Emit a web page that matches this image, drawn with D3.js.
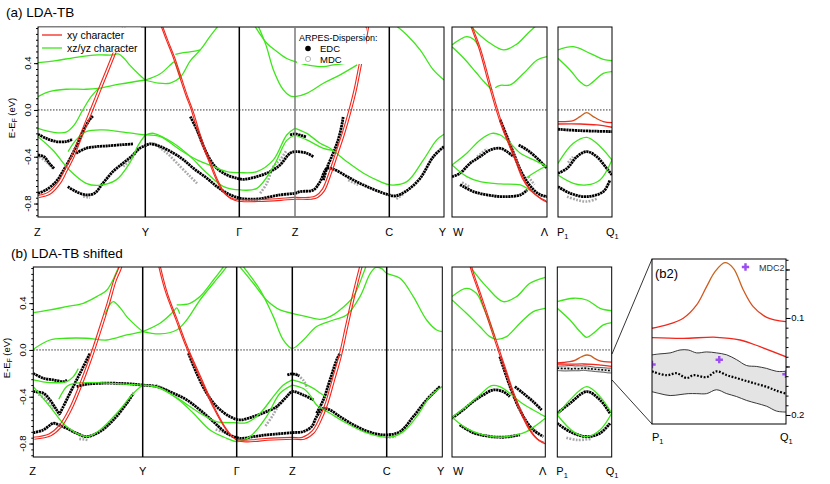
<!DOCTYPE html>
<html>
<head>
<meta charset="utf-8">
<script src="https://cdn.jsdelivr.net/npm/d3@7"></script>
<style>
  body { margin: 0; background: #fff; }
  text { font-family: "Liberation Sans", Arial, sans-serif; }
</style>
</head>
<body>
<svg id="chart" width="830" height="484"></svg>
<script>
// k-path (arbitrary path length units) and labels
var mainNodes = [0, 1.07, 2.01, 2.57, 3.51, 4.06];
var mainNames = ['Z', 'Y', 'Γ', 'Z', 'C', 'Y'];
var wNodes = [0, 0.945];
var pNodes = [0, 0.54];
var eTicks = [-0.8, -0.4, 0.0, 0.4];
var eDomain = [-0.915, 0.709];

// ---- (a) LDA-TB : bands as [k, E] ----
var topMainGreen = [
  [[0,0.405],[0.18,0.422],[0.38,0.45],[0.6,0.47],[0.74,0.47],[0.8,0.479],[0.86,0.44],[0.913,0.385],[1.013,0.299],[1.07,0.256]],
  [[0,0.114],[0.113,0.157],[0.28,0.177],[0.48,0.177],[0.6,0.185],[0.81,0.22],[1.07,0.256]],
  [[0,-0.157],[0.147,-0.19],[0.28,-0.19],[0.36,-0.13],[0.447,0],[0.53,0.114],[0.6,0.18]],
  [[0,-0.228],[0.147,-0.342],[0.313,-0.513],[0.48,-0.627],[0.6,-0.645],[0.78,-0.598],[0.913,-0.456],[1.0,-0.3],[1.07,-0.214]],
  [[0.3,-0.356],[0.38,-0.256],[0.48,-0.185],[0.647,-0.171],[0.813,-0.185],[0.98,-0.205],[1.07,-0.214]],
  [[1.07,0.256],[1.22,0.31],[1.34,0.40],[1.36,0.41],[1.40,0.33],[1.42,0.285]],
  [[1.07,0.256],[1.20,0.23],[1.32,0.23],[1.42,0.28],[1.52,0.42],[1.62,0.513],[1.71,0.62],[1.79,0.71],[1.82,0.75]],
  [[1.37,0.475],[1.45,0.49],[1.55,0.50],[1.62,0.513]],
  [[1.07,-0.214],[1.153,-0.2],[1.353,-0.285],[1.52,-0.399],[1.687,-0.541],[1.853,-0.655],[2.02,-0.684],[2.187,-0.67],[2.353,-0.484],[2.487,-0.26],[2.57,-0.214]],
  [[1.07,-0.214],[1.22,-0.228],[1.42,-0.342],[1.587,-0.427],[1.753,-0.484],[1.887,-0.527],[2.02,-0.536],[2.187,-0.527],[2.353,-0.427],[2.487,-0.214],[2.57,-0.157]],
  [[2.17,0.712],[2.287,0.57],[2.387,0.5],[2.487,0.44],[2.57,0.413],[2.687,0.385],[2.853,0.37],[2.953,0.385],[3.087,0.40],[3.19,0.43]],
  [[2.203,0.712],[2.28,0.55],[2.353,0.342],[2.453,0.171],[2.52,0.12],[2.57,0.114],[2.687,0.142],[2.853,0.228],[3.02,0.30],[3.19,0.385]],
  [[2.57,-0.157],[2.687,-0.2],[2.82,-0.285],[2.92,-0.328],[3.087,-0.442],[3.253,-0.541],[3.42,-0.613],[3.52,-0.641],[3.687,-0.613],[3.853,-0.427],[3.987,-0.256],[4.06,-0.208]],
  [[2.57,-0.214],[2.687,-0.256],[2.853,-0.328],[2.95,-0.345]],
  [[3.57,0.726],[3.687,0.641],[3.82,0.513],[3.953,0.342],[4.06,0.256]]
];
var topMainRed = [
  [[0,-0.74],[0.113,-0.71],[0.213,-0.62],[0.28,-0.513],[0.347,-0.399],[0.413,-0.256],[0.48,-0.114],[0.547,0.028],[0.613,0.171],[0.68,0.313],[0.747,0.456],[0.813,0.6],[0.86,0.72]],
  [[1.2,0.8],[1.237,0.712],[1.287,0.598],[1.353,0.456],[1.42,0.285],[1.487,0.114],[1.537,0.0],[1.587,-0.142],[1.653,-0.313],[1.72,-0.456],[1.787,-0.598],[1.87,-0.72],[1.953,-0.765],[2.02,-0.775],[2.2,-0.775],[2.42,-0.765],[2.57,-0.755],[2.72,-0.755],[2.787,-0.741],[2.853,-0.684],[2.92,-0.541],[2.987,-0.37],[3.053,-0.2],[3.12,0.0],[3.17,0.171],[3.22,0.385],[3.27,0.6],[3.3,0.75]]
];
var topMainEdc = [
  [[0,-0.385],[0.06,-0.4],[0.113,-0.456],[0.16,-0.5]],
  [[0,-0.208],[0.08,-0.242],[0.18,-0.27],[0.28,-0.27],[0.347,-0.25]],
  [[0,-0.712],[0.08,-0.684],[0.18,-0.613],[0.247,-0.527],[0.313,-0.427],[0.38,-0.313],[0.447,-0.185],[0.513,-0.085],[0.547,-0.051]],
  [[0.297,-0.655],[0.38,-0.698],[0.48,-0.726],[0.563,-0.712],[0.647,-0.627],[0.747,-0.527],[0.847,-0.456],[0.947,-0.385],[1.013,-0.328],[1.07,-0.305],[1.12,-0.29],[1.22,-0.313],[1.353,-0.37],[1.453,-0.427],[1.553,-0.5],[1.687,-0.584],[1.787,-0.655],[1.887,-0.712],[2.02,-0.755],[2.187,-0.761],[2.42,-0.726],[2.57,-0.712],[2.62,-0.698],[2.753,-0.684],[2.82,-0.613],[2.887,-0.5],[2.95,-0.505],[3.12,-0.584],[3.287,-0.655],[3.487,-0.721],[3.57,-0.735],[3.687,-0.689],[3.82,-0.584],[3.953,-0.399],[4.06,-0.313]],
  [[0.38,-0.37],[0.48,-0.328],[0.58,-0.313],[0.68,-0.308],[0.813,-0.299],[0.947,-0.29]],
  [[1.52,-0.057],[1.587,-0.171],[1.653,-0.313],[1.72,-0.427],[1.787,-0.5],[1.887,-0.556],[1.987,-0.584],[2.053,-0.593],[2.187,-0.57],[2.32,-0.527],[2.42,-0.47],[2.52,-0.37],[2.57,-0.356],[2.687,-0.37],[2.753,-0.4]],
  [[2.52,-0.214],[2.57,-0.205],[2.64,-0.22],[2.68,-0.23]],
  [[2.853,-0.6],[2.887,-0.5],[2.95,-0.37],[3.0,-0.256],[3.04,-0.114],[3.05,-0.06]]
];
var topMainMdc = [
  [[0.013,-0.4],[0.08,-0.44],[0.15,-0.5]],
  [[0.45,-0.74],[0.52,-0.75]],
  [[0.85,-0.484],[0.947,-0.4],[1.0,-0.313]],
  [[1.153,-0.285],[1.287,-0.37],[1.42,-0.484],[1.52,-0.57],[1.587,-0.627]],
  [[2.22,-0.712],[2.287,-0.627],[2.353,-0.484],[2.42,-0.427],[2.487,-0.342]],
  [[1.55,-0.1],[1.6,-0.2],[1.65,-0.3]],
  [[3.1,-0.6],[3.2,-0.64]],
  [[3.58,-0.76],[3.65,-0.72]]
];
var topWGreen = [
  [[0,0.556],[0.147,0.627],[0.22,0.60],[0.26,0.55]],
  [[0,0.54],[0.12,0.44],[0.24,0.32],[0.33,0.23],[0.40,0.17]],
  [[0.43,0.19],[0.48,0.21],[0.58,0.214],[0.713,0.313],[0.847,0.427],[0.945,0.456]],
  [[0.18,0.72],[0.347,0.59],[0.513,0.513],[0.64,0.56],[0.76,0.66],[0.85,0.73]],
  [[0,-0.47],[0.147,-0.37],[0.28,-0.256],[0.397,-0.2],[0.48,-0.214],[0.58,-0.285],[0.68,-0.37],[0.813,-0.427],[0.945,-0.484]],
  [[0,-0.47],[0.147,-0.57],[0.28,-0.613],[0.48,-0.632],[0.68,-0.641],[0.747,-0.67],[0.8,-0.7]],
  [[0.74,-0.58],[0.85,-0.52],[0.945,-0.476]]
];
var topWRed = [
  [[0.17,0.8],[0.197,0.712],[0.28,0.513],[0.38,0.2],[0.447,0.0],[0.513,-0.171],[0.58,-0.313],[0.647,-0.456],[0.713,-0.598],[0.78,-0.684],[0.88,-0.755],[0.945,-0.783]]
];
var topWEdc = [
  [[0,-0.57],[0.08,-0.541],[0.18,-0.456],[0.28,-0.399],[0.38,-0.342],[0.48,-0.328],[0.547,-0.356],[0.613,-0.399]],
  [[0.663,-0.3],[0.747,-0.342],[0.847,-0.413],[0.945,-0.5]],
  [[0.48,-0.085],[0.547,-0.228],[0.613,-0.37],[0.68,-0.513],[0.747,-0.613],[0.813,-0.684],[0.88,-0.726],[0.945,-0.741]],
  [[0.08,-0.64],[0.113,-0.655],[0.213,-0.698],[0.347,-0.726],[0.513,-0.741],[0.68,-0.726],[0.747,-0.684]]
];
var topWMdc = [
  [[0.1,-0.62],[0.18,-0.66]],
  [[0.25,-0.4],[0.35,-0.33]],
  [[0.76,-0.57],[0.82,-0.64]]
];
var topPGreen = [
  [[0,0.513],[0.153,0.541],[0.32,0.484],[0.453,0.433],[0.54,0.422]],
  [[0,0.442],[0.12,0.342],[0.22,0.242],[0.287,0.205],[0.353,0.242],[0.453,0.313],[0.54,0.328]],
  [[0,-0.456],[0.153,-0.285],[0.287,-0.234],[0.387,-0.285],[0.54,-0.427]],
  [[0,-0.556],[0.153,-0.627],[0.287,-0.641],[0.42,-0.598],[0.54,-0.427]]
];
var topPRed = [
  [[0,-0.1],[0.153,-0.091],[0.22,-0.057],[0.287,-0.023],[0.353,-0.057],[0.453,-0.1],[0.54,-0.108]],
  [[0,-0.12],[0.22,-0.12],[0.387,-0.128],[0.54,-0.148]]
];
var topPEdc = [
  [[0,-0.165],[0.22,-0.177],[0.54,-0.185]],
  [[0,-0.541],[0.09,-0.5],[0.19,-0.399],[0.287,-0.356],[0.387,-0.399],[0.487,-0.5],[0.54,-0.556]],
  [[0,-0.655],[0.12,-0.712],[0.287,-0.741],[0.453,-0.698],[0.52,-0.598]]
];
var topPMdc = [
  [[0.09,-0.741],[0.19,-0.769],[0.287,-0.783],[0.387,-0.76]],
  [[0.1,-0.45],[0.15,-0.4]]
];

// ---- (b) LDA-TB shifted ----
var botMainGreen = [
  [[0,0.319],[0.163,0.342],[0.326,0.37],[0.489,0.399],[0.62,0.456],[0.72,0.513],[0.78,0.6],[0.83,0.7],[0.86,0.76]],
  [[0,0.006],[0.163,0.085],[0.326,0.1],[0.522,0.1],[0.718,0.085],[0.914,0.128],[1.07,0.157]],
  [[0.70,0.30],[0.75,0.39],[0.783,0.413],[0.85,0.36],[0.914,0.285],[1.0,0.21],[1.07,0.157]],
  [[0,-0.256],[0.163,-0.279],[0.326,-0.27],[0.39,-0.23],[0.44,-0.16]],
  [[0,-0.313],[0.163,-0.484],[0.326,-0.655],[0.522,-0.741],[0.652,-0.684],[0.816,-0.541],[0.979,-0.37],[1.07,-0.3]],
  [[0.25,-0.42],[0.33,-0.31],[0.4,-0.285],[0.6,-0.279],[0.85,-0.29],[1.07,-0.3]],
  [[1.07,0.157],[1.243,0.228],[1.377,0.328],[1.41,0.36],[1.44,0.31]],
  [[1.07,0.157],[1.243,0.137],[1.41,0.171],[1.51,0.256],[1.643,0.427],[1.777,0.57],[1.91,0.712],[1.94,0.76]],
  [[1.41,0.385],[1.543,0.399],[1.643,0.456],[1.777,0.598],[1.877,0.712],[1.9,0.76]],
  [[1.07,-0.3],[1.21,-0.313],[1.41,-0.413],[1.577,-0.541],[1.743,-0.684],[1.91,-0.755],[2.01,-0.783],[2.143,-0.741],[2.31,-0.57],[2.446,-0.37],[2.57,-0.3]],
  [[1.07,-0.3],[1.243,-0.328],[1.443,-0.427],[1.643,-0.541],[1.81,-0.613],[1.977,-0.621],[2.11,-0.621],[2.245,-0.541],[2.379,-0.399],[2.48,-0.3],[2.57,-0.256]],
  [[2.04,0.712],[2.177,0.57],[2.31,0.427],[2.446,0.342],[2.57,0.313],[2.713,0.285],[2.846,0.262],[2.945,0.285],[3.045,0.342],[3.178,0.456],[3.278,0.655],[3.31,0.73]],
  [[2.0,0.8],[2.077,0.712],[2.245,0.513],[2.379,0.285],[2.48,0.085],[2.57,0.014],[2.68,0.085],[2.812,0.2],[2.979,0.256],[3.111,0.299],[3.244,0.456],[3.344,0.65],[3.40,0.705],[3.46,0.695],[3.51,0.655],[3.642,0.613],[3.773,0.456],[3.905,0.256],[4.004,0.171],[4.06,0.157]],
  [[2.57,-0.256],[2.68,-0.285],[2.78,-0.328],[2.85,-0.37],[2.9,-0.4]],
  [[2.57,-0.3],[2.68,-0.33],[2.75,-0.39],[2.812,-0.47],[2.945,-0.541],[3.111,-0.627],[3.278,-0.698],[3.444,-0.741],[3.543,-0.746],[3.675,-0.698],[3.806,-0.57],[3.938,-0.399],[4.06,-0.313]]
];
var botMainRed = [
  [[0,-0.755],[0.163,-0.726],[0.261,-0.655],[0.359,-0.513],[0.457,-0.313],[0.555,-0.085],[0.652,0.171],[0.734,0.399],[0.8,0.598],[0.848,0.698],[0.87,0.76]],
  [[1.22,0.8],[1.243,0.698],[1.31,0.484],[1.41,0.256],[1.51,0.028],[1.643,-0.228],[1.777,-0.484],[1.91,-0.684],[2.01,-0.769],[2.177,-0.775],[2.31,-0.764],[2.57,-0.755],[2.68,-0.755],[2.78,-0.698],[2.846,-0.598],[2.912,-0.456],[2.979,-0.256],[3.045,-0.057],[3.111,0.2],[3.178,0.456],[3.244,0.684],[3.27,0.76]]
];
var botMainEdc = [
  [[0,-0.2],[0.098,-0.242],[0.196,-0.256],[0.294,-0.27],[0.33,-0.26]],
  [[0,-0.356],[0.098,-0.37],[0.163,-0.427],[0.228,-0.513],[0.261,-0.556]],
  [[0.261,-0.541],[0.326,-0.427],[0.391,-0.313],[0.457,-0.2],[0.522,-0.085],[0.555,-0.028]],
  [[0,-0.707],[0.098,-0.684],[0.196,-0.627],[0.25,-0.64],[0.326,-0.67],[0.424,-0.712],[0.522,-0.741],[0.652,-0.698],[0.783,-0.598],[0.914,-0.456],[0.979,-0.37]],
  [[0.424,-0.313],[0.522,-0.293],[0.652,-0.285],[0.816,-0.285],[0.946,-0.29],[1.07,-0.3],[1.21,-0.313],[1.377,-0.37],[1.51,-0.427],[1.643,-0.513],[1.777,-0.613],[1.91,-0.712],[2.043,-0.755],[2.177,-0.741],[2.31,-0.726],[2.57,-0.707],[2.68,-0.698],[2.763,-0.655],[2.812,-0.57],[2.879,-0.5],[2.945,-0.513],[3.045,-0.57],[3.211,-0.655],[3.377,-0.712],[3.51,-0.726],[3.642,-0.698],[3.773,-0.57],[3.905,-0.427],[4.037,-0.313]],
  [[1.527,-0.028],[1.61,-0.2],[1.71,-0.37],[1.81,-0.484],[1.943,-0.57],[2.043,-0.598],[2.177,-0.57],[2.31,-0.527],[2.413,-0.484],[2.513,-0.4],[2.57,-0.356],[2.68,-0.385],[2.78,-0.427]],
  [[2.52,-0.214],[2.57,-0.205],[2.64,-0.22]],
  [[2.812,-0.541],[2.879,-0.427],[2.945,-0.256],[3.012,-0.085],[3.045,-0.028]]
];
var botMainMdc = [
  [[0.05,-0.38],[0.12,-0.42],[0.2,-0.5]],
  [[0.45,-0.76],[0.53,-0.77]],
  [[1.2,-0.3],[1.35,-0.36]],
  [[1.8,-0.68],[1.95,-0.72]],
  [[2.3,-0.65],[2.38,-0.55],[2.45,-0.44]],
  [[2.6,-0.2],[2.68,-0.26],[2.72,-0.33]],
  [[3.5,-0.75],[3.6,-0.74]]
];
var botWGreen = [
  [[0,0.456],[0.146,0.527],[0.247,0.484],[0.315,0.37],[0.383,0.228],[0.434,0.114]],
  [[0,0.427],[0.146,0.313],[0.281,0.2],[0.383,0.114],[0.45,0.091],[0.552,0.114],[0.688,0.228],[0.823,0.328],[0.945,0.356]],
  [[0.196,0.698],[0.349,0.541],[0.518,0.413],[0.654,0.456],[0.789,0.57],[0.945,0.621]],
  [[0,-0.575],[0.146,-0.484],[0.281,-0.385],[0.4,-0.305],[0.484,-0.313],[0.586,-0.37],[0.688,-0.442],[0.823,-0.513],[0.945,-0.57]],
  [[0,-0.575],[0.146,-0.67],[0.315,-0.726],[0.484,-0.746],[0.654,-0.726],[0.755,-0.698],[0.857,-0.641],[0.945,-0.584]]
];
var botWRed = [
  [[0.18,0.78],[0.196,0.698],[0.281,0.484],[0.383,0.228],[0.467,0.014],[0.552,-0.2],[0.62,-0.37],[0.705,-0.541],[0.789,-0.684],[0.874,-0.769],[0.945,-0.798]]
];
var botWEdc = [
  [[0,-0.584],[0.112,-0.513],[0.213,-0.442],[0.315,-0.385],[0.417,-0.342],[0.518,-0.356],[0.586,-0.399]],
  [[0.637,-0.313],[0.721,-0.37],[0.823,-0.442],[0.908,-0.513]],
  [[0.484,-0.057],[0.552,-0.228],[0.62,-0.385],[0.688,-0.513],[0.755,-0.613],[0.823,-0.684],[0.925,-0.741]],
  [[0.078,-0.641],[0.213,-0.707],[0.349,-0.735],[0.518,-0.746],[0.688,-0.726]]
];
var botWMdc = [
  [[0.15,-0.68],[0.25,-0.72]],
  [[0.76,-0.64],[0.85,-0.69]],
  [[0.05,-0.55],[0.1,-0.52]]
];
var botPGreen = [
  [[0,0.413],[0.159,0.442],[0.292,0.427],[0.424,0.356],[0.54,0.336]],
  [[0,0.356],[0.126,0.256],[0.225,0.157],[0.292,0.108],[0.358,0.142],[0.457,0.214],[0.54,0.234]],
  [[0,-0.556],[0.126,-0.427],[0.292,-0.313],[0.424,-0.399],[0.54,-0.541]],
  [[0,-0.556],[0.159,-0.698],[0.292,-0.741],[0.424,-0.684],[0.54,-0.541]]
];
var botPEdc = [
  [[0,-0.541],[0.126,-0.456],[0.292,-0.356],[0.424,-0.427],[0.523,-0.541]],
  [[0,-0.627],[0.126,-0.698],[0.292,-0.741],[0.424,-0.712],[0.523,-0.627]]
];
var botPMdc = [
  [[0.09,-0.75],[0.2,-0.77],[0.33,-0.76]]
];

// ---- (b2) zoom P1-Q1 ----
var insetRedUp = [[0,-0.1106],[0.059,-0.1072],[0.126,-0.1003],[0.18,-0.0866],[0.22,-0.0677],[0.254,-0.0523],[0.294,-0.043],[0.328,-0.0488],[0.368,-0.0711],[0.408,-0.0883],[0.462,-0.0993],[0.54,-0.1038]];
var insetRedLow = [[0,-0.1203],[0.126,-0.121],[0.26,-0.1199],[0.355,-0.1227],[0.435,-0.1296],[0.54,-0.14]];
var insetEdc = [[0,-0.155],[0.059,-0.159],[0.099,-0.157],[0.14,-0.162],[0.167,-0.159],[0.22,-0.161],[0.26,-0.155],[0.301,-0.159],[0.328,-0.161],[0.368,-0.164],[0.408,-0.167],[0.462,-0.171],[0.502,-0.175],[0.54,-0.178]];
// [k, upper, lower] of the EDC error band
var insetBand = [[0,-0.138,-0.176],[0.032,-0.137,-0.178],[0.073,-0.136,-0.180],[0.113,-0.133,-0.179],[0.146,-0.133,-0.178],[0.18,-0.136,-0.178],[0.22,-0.135,-0.178],[0.26,-0.136,-0.174],[0.301,-0.138,-0.178],[0.341,-0.143,-0.181],[0.381,-0.149,-0.185],[0.422,-0.150,-0.188],[0.462,-0.152,-0.191],[0.502,-0.155,-0.196],[0.54,-0.155,-0.197]];
var insetMdc2 = [[0,-0.148],[0.271,-0.143],[0.54,-0.158]];
var insetTicks = [-0.1, -0.2];

var RED = '#f2261c', GREEN = '#3de619', MIX = '#c8641e';

var svg = d3.select('#chart');
var defs = svg.append('defs');

// horizontal gradient for the hybridised xy band around P1-Q1
var grad = defs.append('linearGradient').attr('id', 'mixGrad')
    .attr('x1', '0%').attr('x2', '100%').attr('y1', '0%').attr('y2', '0%');
grad.append('stop').attr('offset', '15%').attr('stop-color', RED);
grad.append('stop').attr('offset', '45%').attr('stop-color', MIX);
grad.append('stop').attr('offset', '65%').attr('stop-color', MIX);
grad.append('stop').attr('offset', '90%').attr('stop-color', RED);

function drawPanel(id, x, y, set) {
  var xr = x.range(), x0 = xr[0], x1 = xr[xr.length - 1];
  var yr = y.range(), yb = yr[0], yt = yr[1];
  defs.append('clipPath').attr('id', id).append('rect')
      .attr('x', x0).attr('y', yt).attr('width', x1 - x0).attr('height', yb - yt);
  var g = svg.append('g').attr('clip-path', 'url(#' + id + ')');
  var line = d3.line()
      .x(function(d) { return x(d[0]); })
      .y(function(d) { return y(d[1]); })
      .curve(d3.curveCatmullRom);

  g.append('line')
      .attr('x1', x0).attr('x2', x1).attr('y1', y(0)).attr('y2', y(0))
      .attr('stroke', '#000').attr('stroke-width', 0.8).attr('stroke-dasharray', '1.5,1.5');

  if (set.band) {
    g.append('path').datum(set.band)
        .attr('d', d3.area().x(function(d) { return x(d[0]); })
            .y0(function(d) { return y(d[2]); }).y1(function(d) { return y(d[1]); })
            .curve(d3.curveCatmullRom))
        .attr('fill', '#e4e4e4').attr('stroke', 'none');
    [1, 2].forEach(function(j) {
      g.append('path').datum(set.band)
          .attr('d', d3.line().x(function(d) { return x(d[0]); }).y(function(d) { return y(d[j]); }).curve(d3.curveCatmullRom))
          .attr('fill', 'none').attr('stroke', '#222').attr('stroke-width', set.bandWidth || 0.8);
    });
  }

  g.selectAll('path.mdc').data(set.mdc || []).enter().append('path')
      .attr('class', 'mdc').attr('d', line)
      .attr('fill', 'none').attr('stroke', '#a8a8a8').attr('stroke-width', 2.6)
      .attr('stroke-dasharray', '1.8,1.4');

  g.selectAll('path.edc').data(set.edc || []).enter().append('path')
      .attr('class', 'edc').attr('d', line)
      .attr('fill', 'none').attr('stroke', '#000').attr('stroke-width', 2.8)
      .attr('stroke-dasharray', '2.2,0.6');

  g.selectAll('path.green').data(set.green || []).enter().append('path')
      .attr('class', 'green').attr('d', line)
      .attr('fill', 'none').attr('stroke', GREEN).attr('stroke-width', 1.3);

  if (set.single) {
    // P1-Q1 cuts: single xy bands, the upper one hybridised
    g.selectAll('path.red').data(set.red || []).enter().append('path')
        .attr('class', 'red').attr('d', line)
        .attr('fill', 'none').attr('stroke', function(d, i) { return i === 0 ? 'url(#mixGrad)' : RED; })
        .attr('stroke-width', 1.3);
  } else {
    // xy bands are doubled (two nearly degenerate bands)
    [[-1, -0.9], [1, 0.9]].forEach(function(o) {
      g.selectAll('path.red' + o[0]).data(set.red || []).enter().append('path')
          .attr('class', 'red' + o[0]).attr('d', line)
          .attr('transform', 'translate(' + o[0] + ',' + o[1] + ')')
          .attr('fill', 'none').attr('stroke', RED).attr('stroke-width', 1.1);
    });
  }

  if (set.dots) {
    g.append('path').datum(set.dots).attr('d', line)
        .attr('fill', 'none').attr('stroke', '#000').attr('stroke-width', set.dotWidth || 2.2)
        .attr('stroke-dasharray', '1.8,1.6');
  }

  svg.append('rect')
      .attr('x', x0).attr('y', yt).attr('width', x1 - x0).attr('height', yb - yt)
      .attr('fill', 'none').attr('stroke', '#000').attr('stroke-width', 1);
  return g;
}

var rows = [
  { id: 'a', y0: 27, y1: 217, main: [38, 145.3, 239.3, 295, 389.3, 444], w: [452, 547], p: [558, 612],
    zColor: '#7a7a7a', labelY: 236, title: '(a) LDA-TB', titleX: 6, titleY: 17,
    mainSet: { green: topMainGreen, red: topMainRed, edc: topMainEdc, mdc: topMainMdc },
    wSet: { green: topWGreen, red: topWRed, edc: topWEdc, mdc: topWMdc },
    pSet: { green: topPGreen, red: topPRed, edc: topPEdc, mdc: topPMdc, single: true } },
  { id: 'b', y0: 267, y1: 457, main: [33.3, 142.7, 236.7, 292.3, 386.7, 442.3], w: [452, 545.3], p: [557.3, 611.7],
    zColor: '#000', labelY: 475, title: '(b) LDA-TB shifted', titleX: 11, titleY: 258,
    mainSet: { green: botMainGreen, red: botMainRed, edc: botMainEdc, mdc: botMainMdc },
    wSet: { green: botWGreen, red: botWRed, edc: botWEdc, mdc: botWMdc },
    pSet: { green: botPGreen, red: [insetRedUp, insetRedLow], edc: botPEdc, mdc: botPMdc,
            band: insetBand, dots: insetEdc, dotWidth: 1.6, bandWidth: 0.7, single: true } }
];

rows.forEach(function(row) {
  var y = d3.scaleLinear().domain(eDomain).range([row.y1, row.y0]);
  var xMain = d3.scaleLinear().domain(mainNodes).range(row.main);
  var xW = d3.scaleLinear().domain(wNodes).range(row.w);
  var xP = d3.scaleLinear().domain(pNodes).range(row.p);

  drawPanel(row.id + 'main', xMain, y, row.mainSet);
  drawPanel(row.id + 'w', xW, y, row.wSet);
  drawPanel(row.id + 'p', xP, y, row.pSet);

  // high-symmetry verticals
  svg.selectAll('line.v' + row.id).data(mainNodes.slice(1, 5)).enter().append('line')
      .attr('class', 'v' + row.id)
      .attr('x1', xMain).attr('x2', xMain).attr('y1', row.y0).attr('y2', row.y1)
      .attr('stroke', function(d, i) { return i === 2 ? row.zColor : '#000'; })
      .attr('stroke-width', 1.5);

  // energy axis
  var ax = svg.append('g').attr('transform', 'translate(' + row.main[0] + ',0)');
  ax.call(d3.axisLeft(y).tickValues(d3.range(-0.9, 0.71, 0.05)).tickSize(2).tickFormat(''));
  ax.select('.domain').remove();
  var ax2 = svg.append('g').attr('transform', 'translate(' + row.main[0] + ',0)');
  ax2.call(d3.axisLeft(y).tickValues(eTicks).tickSize(4).tickFormat(''));
  ax2.select('.domain').remove();
  svg.selectAll('text.e' + row.id).data(eTicks).enter().append('text')
      .attr('class', 'e' + row.id)
      .attr('transform', function(d) { return 'translate(' + (row.main[0] - 7) + ',' + y(d) + ') rotate(-90)'; })
      .attr('text-anchor', 'middle').attr('font-size', 9.5)
      .text(function(d) { return d.toFixed(1); });
  var lab = svg.append('text')
      .attr('transform', 'translate(' + (row.main[0] - 23) + ',' + (y(0) + 8) + ') rotate(-90)')
      .attr('text-anchor', 'middle').attr('font-size', 9.5);
  lab.append('tspan').text('E-E');
  lab.append('tspan').attr('font-size', 6.5).attr('dy', 2).text('F');
  lab.append('tspan').attr('dy', -2).text(' (eV)');

  // k labels
  svg.selectAll('text.k' + row.id).data(mainNames).enter().append('text')
      .attr('class', 'k' + row.id)
      .attr('x', function(d, i) { return i === 0 ? row.main[0] - 4 : (i === 5 ? row.main[5] + 2 : row.main[i]); })
      .attr('y', row.labelY)
      .attr('text-anchor', function(d, i) { return i === 0 ? 'start' : (i === 5 ? 'end' : 'middle'); })
      .attr('font-size', 11).text(function(d) { return d; });
  svg.append('text').attr('x', row.w[0] + 1).attr('y', row.labelY).attr('font-size', 11).text('W');
  svg.append('text').attr('x', row.w[1] + 1).attr('y', row.labelY).attr('text-anchor', 'end').attr('font-size', 11).text('Λ');
  [['P', row.p[0] - 1], ['Q', row.p[1] - 6]].forEach(function(t) {
    var tx = svg.append('text').attr('x', t[1]).attr('y', row.labelY).attr('font-size', 11);
    tx.append('tspan').text(t[0]);
    tx.append('tspan').attr('font-size', 7.5).attr('dy', 3).text('1');
  });

  svg.append('text').attr('x', row.titleX).attr('y', row.titleY)
      .attr('font-size', 13.5).text(row.title);
});

// ---- legends in panel (a) ----
svg.append('rect').attr('x', 39).attr('y', 27.5).attr('width', 102).attr('height', 25).attr('fill', '#fff');
[[RED, 'xy character', 35], [GREEN, 'xz/yz character', 48]].forEach(function(l) {
  svg.append('line').attr('x1', 42).attr('x2', 62).attr('y1', l[2]).attr('y2', l[2])
      .attr('stroke', l[0]).attr('stroke-width', 1.3);
  svg.append('text').attr('x', 67).attr('y', l[2] + 3.8).attr('font-size', 10.5).text(l[1]);
});
svg.append('rect').attr('x', 297).attr('y', 28).attr('width', 69).attr('height', 36).attr('fill', '#fff');
svg.append('text').attr('x', 299).attr('y', 41).attr('font-size', 9).text('ARPES-Dispersion:');
svg.append('circle').attr('cx', 308).attr('cy', 48.5).attr('r', 2.8).attr('fill', '#000');
svg.append('text').attr('x', 320).attr('y', 52).attr('font-size', 9.5).text('EDC');
svg.append('circle').attr('cx', 308).attr('cy', 59).attr('r', 2.6).attr('fill', '#fff').attr('stroke', '#aaa').attr('stroke-width', 0.8);
svg.append('text').attr('x', 320).attr('y', 62.5).attr('font-size', 9.5).text('MDC');

// ---- inset (b2) ----
var ix = d3.scaleLinear().domain(pNodes).range([652, 786]);
var iy = d3.scaleLinear().domain([-0.2093, -0.0392]).range([424, 259]);
var ig = drawPanel('inset', ix, iy, { red: [insetRedUp, insetRedLow], band: insetBand, dots: insetEdc, bandWidth: 0.9, single: true });
ig.selectAll('path.mdc2').data(insetMdc2).enter().append('path')
    .attr('class', 'mdc2')
    .attr('transform', function(d) { return 'translate(' + ix(d[0]) + ',' + iy(d[1]) + ')'; })
    .attr('d', d3.symbol().type(d3.symbolCross).size(30))
    .attr('fill', '#9b4ff0');
svg.append('path').attr('transform', 'translate(745.5,267)')
    .attr('d', d3.symbol().type(d3.symbolCross).size(30)).attr('fill', '#9b4ff0');
svg.append('text').attr('x', 759).attr('y', 271).attr('font-size', 9).attr('fill', '#333').text('MDC2');
svg.append('text').attr('x', 655).attr('y', 278).attr('font-size', 13).text('(b2)');

var iax = svg.append('g').attr('transform', 'translate(786,0)');
iax.call(d3.axisRight(iy).tickValues(d3.range(-0.2, -0.039, 0.01)).tickSize(2.5).tickFormat(''));
iax.select('.domain').remove();
var iax2 = svg.append('g').attr('transform', 'translate(786,0)');
iax2.call(d3.axisRight(iy).tickValues([-0.05, -0.1, -0.15, -0.2]).tickSize(4).tickFormat(''));
iax2.select('.domain').remove();
svg.selectAll('text.it').data(insetTicks).enter().append('text')
    .attr('class', 'it').attr('x', 788).attr('y', function(d) { return iy(d) + 3.3; })
    .attr('font-size', 9.5).text(function(d) { return d.toFixed(1); });
[['P', 652], ['Q', 780]].forEach(function(t) {
  var tx = svg.append('text').attr('x', t[1]).attr('y', 441).attr('font-size', 11);
  tx.append('tspan').text(t[0]);
  tx.append('tspan').attr('font-size', 7.5).attr('dy', 3).text('1');
});

// zoom connectors from the P1-Q1 panel of (b)
[[612, 354, 652, 259], [612, 380, 652, 424]].forEach(function(c) {
  svg.append('line').attr('x1', c[0]).attr('y1', c[1]).attr('x2', c[2]).attr('y2', c[3])
      .attr('stroke', '#000').attr('stroke-width', 0.8);
});
</script>
</body>
</html>
